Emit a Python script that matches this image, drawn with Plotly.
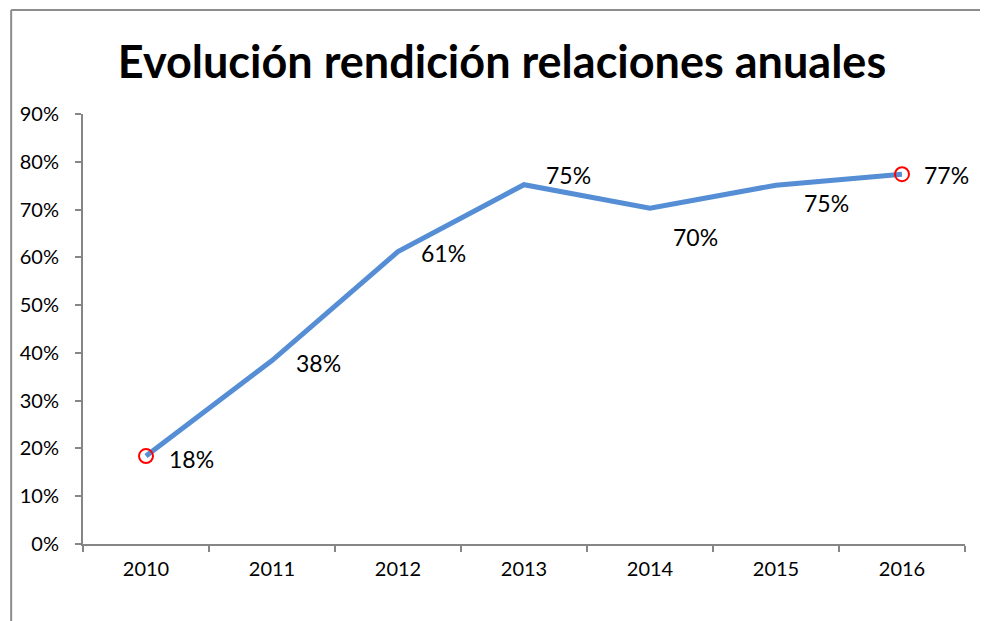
import plotly.graph_objects as go

years = ["2010", "2011", "2012", "2013", "2014", "2015", "2016"]
values = [0.184, 0.384, 0.612, 0.752, 0.703, 0.751, 0.774]
labels = ["18%", "38%", "61%", "75%", "70%", "75%", "77%"]
label_shift = [(45, -3), (46, -2), (45, -1), (44, 10), (45, -29), (50, -18), (44, -1)]

FONT = "Lato"
W, H = 988, 621
L, R, T, B = 73, 31, 106, 85
PW, PH = W - L - R, H - T - B

fig = go.Figure()
fig.add_trace(go.Scatter(
    x=years, y=values, mode="lines",
    line=dict(color="#558ED5", width=5),
    hoverinfo="skip", showlegend=False,
))
fig.add_trace(go.Scatter(
    x=[years[0], years[-1]], y=[values[0], values[-1]], mode="markers",
    marker=dict(symbol="circle-open", size=14, color="#FF0000", line=dict(width=2, color="#FF0000")),
    hoverinfo="skip", showlegend=False,
))

for i, (v, t, (dx, dy)) in enumerate(zip(values, labels, label_shift)):
    fig.add_annotation(x=i, y=v, text=t, showarrow=False, xshift=dx, yshift=dy,
                       font=dict(family=FONT, size=23, color="#000000"))

fig.update_layout(
    width=W, height=H,
    paper_bgcolor="white", plot_bgcolor="white",
    margin=dict(l=L, r=R, t=T, b=B),
    title=dict(text="<b>Evolución rendición relaciones anuales</b>", x=0.5, xref="container",
               xanchor="center", y=1 - 54 / H, yanchor="middle",
               font=dict(family=FONT, size=45, color="#000000")),
    font=dict(family=FONT, color="#000000"),
    xaxis=dict(
        type="category", range=[-0.5, 6.5], showgrid=False, showline=True,
        linecolor="#868686", linewidth=2, ticks="outside", tickson="boundaries",
        ticklen=6, tickcolor="#868686", tickwidth=2, ticklabelstandoff=6,
        tickfont=dict(family=FONT, size=20, color="#000000"), zeroline=False,
    ),
    yaxis=dict(
        range=[0, 0.9], dtick=0.1, tickformat=".0%", showgrid=False, showline=True,
        linecolor="#868686", linewidth=2, ticks="outside", ticklen=6,
        tickcolor="#868686", tickwidth=2, zeroline=False, ticklabelstandoff=12,
        tickfont=dict(family=FONT, size=20, color="#000000"),
    ),
)

# outer chart frame (partly cropped in the reference)
ytop = (H - 2 - B) / PH
xleft = (1 - L) / PW
fig.add_shape(type="line", xref="paper", yref="paper",
              x0=xleft, x1=(W + 20 - L) / PW, y0=ytop, y1=ytop,
              line=dict(color="#8C8C8C", width=2))
fig.add_shape(type="line", xref="paper", yref="paper",
              x0=xleft, x1=xleft, y0=ytop, y1=-(B + 20) / PH,
              line=dict(color="#8C8C8C", width=2))

fig.write_html("out.html")
